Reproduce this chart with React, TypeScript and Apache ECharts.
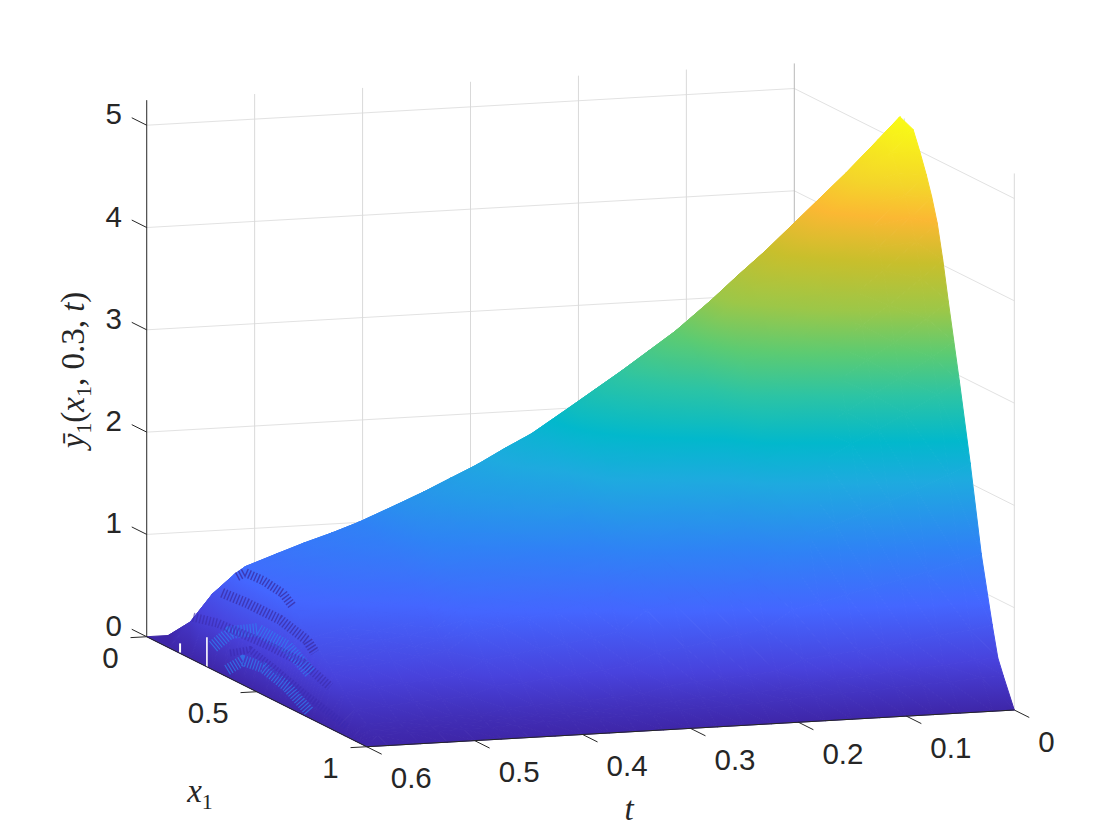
import React, { useEffect, useRef } from "react";
import * as echarts from "echarts";

// ---- surface values ----
const x1Values = [0, 0.1, 0.2, 0.3, 0.35, 0.4, 0.44, 0.48, 0.54, 0.57, 0.6, 0.625, 0.65, 0.675, 0.7, 0.725, 0.75, 0.8, 0.85, 0.9, 0.925, 0.95, 1];
const tValues = [0, 0.02, 0.05, 0.075, 0.1, 0.125, 0.15, 0.175, 0.2, 0.225, 0.25, 0.275, 0.3, 0.325, 0.35, 0.375, 0.4, 0.425, 0.45, 0.475, 0.5, 0.525, 0.55, 0.58, 0.6];
const row000 = [0, 0.88, 2.07, 3.37, 3.92, 4.51, 5.0, 5.24, 5.18, 5.0, 4.8, 4.61, 4.38, 4.05, 3.67, 3.31, 2.95, 2.19, 1.36, 0.72, 0.43, 0.28, 0];
const row002 = [0, 0.84, 1.99, 3.24, 3.76, 4.33, 4.8, 5.03, 4.97, 4.8, 4.61, 4.42, 4.21, 3.88, 3.52, 3.17, 2.83, 2.1, 1.3, 0.69, 0.42, 0.27, 0];
const row005 = [0, 0.79, 1.86, 3.04, 3.53, 4.06, 4.51, 4.72, 4.67, 4.5, 4.32, 4.15, 3.95, 3.64, 3.3, 2.98, 2.66, 1.97, 1.22, 0.65, 0.39, 0.25, 0];
const row0075 = [0, 0.75, 1.77, 2.89, 3.35, 3.85, 4.28, 4.48, 4.43, 4.27, 4.1, 3.94, 3.75, 3.46, 3.14, 2.83, 2.52, 1.87, 1.16, 0.61, 0.37, 0.24, 0];
const row010 = [0, 0.71, 1.67, 2.73, 3.17, 3.65, 4.05, 4.24, 4.19, 4.04, 3.88, 3.73, 3.54, 3.27, 2.97, 2.68, 2.39, 1.77, 1.1, 0.58, 0.35, 0.22, 0];
const row0125 = [0, 0.67, 1.58, 2.58, 2.99, 3.44, 3.82, 4.0, 3.96, 3.82, 3.66, 3.52, 3.34, 3.09, 2.8, 2.52, 2.25, 1.67, 1.04, 0.55, 0.33, 0.21, 0];
const row015 = [0, 0.63, 1.49, 2.43, 2.83, 3.25, 3.61, 3.78, 3.74, 3.61, 3.46, 3.32, 3.16, 2.92, 2.65, 2.39, 2.13, 1.58, 0.98, 0.52, 0.31, 0.2, 0];
const row0175 = [0, 0.59, 1.4, 2.29, 2.66, 3.05, 3.39, 3.55, 3.51, 3.39, 3.25, 3.12, 2.97, 2.74, 2.49, 2.24, 2.0, 1.48, 0.92, 0.49, 0.29, 0.19, 0];
const row020 = [0, 0.52, 1.42, 2.25, 2.64, 2.96, 3.22, 3.2, 3.06, 2.95, 2.81, 2.68, 2.49, 2.27, 2.06, 1.86, 1.65, 1.2, 0.75, 0.39, 0.24, 0.16, 0];
const row0225 = [0, 0.49, 1.34, 2.13, 2.49, 2.8, 3.04, 3.02, 2.89, 2.78, 2.65, 2.53, 2.35, 2.14, 1.95, 1.76, 1.56, 1.13, 0.71, 0.37, 0.23, 0.15, 0];
const row025 = [0, 0.46, 1.26, 2.0, 2.35, 2.63, 2.86, 2.85, 2.72, 2.62, 2.49, 2.38, 2.21, 2.02, 1.83, 1.65, 1.46, 1.06, 0.66, 0.35, 0.21, 0.14, 0];
const row0275 = [0, 0.43, 1.18, 1.88, 2.21, 2.47, 2.69, 2.68, 2.56, 2.46, 2.35, 2.24, 2.08, 1.9, 1.72, 1.55, 1.38, 1.0, 0.62, 0.33, 0.2, 0.13, 0];
const row030 = [0, 0.4, 1.11, 1.76, 2.07, 2.32, 2.52, 2.51, 2.39, 2.31, 2.2, 2.1, 1.95, 1.78, 1.62, 1.46, 1.29, 0.94, 0.58, 0.31, 0.19, 0.13, 0];
const row0325 = [0, 0.45, 1.13, 1.76, 2.0, 2.25, 2.24, 2.2, 2.06, 1.97, 1.86, 1.74, 1.6, 1.46, 1.33, 1.19, 1.05, 0.75, 0.47, 0.24, 0.16, 0.1, 0];
const row035 = [0, 0.42, 1.06, 1.65, 1.89, 2.12, 2.11, 2.07, 1.94, 1.86, 1.76, 1.64, 1.5, 1.38, 1.25, 1.12, 0.99, 0.7, 0.44, 0.23, 0.15, 0.1, 0];
const row0375 = [0, 0.4, 0.99, 1.54, 1.76, 1.98, 1.97, 1.94, 1.81, 1.73, 1.64, 1.53, 1.4, 1.29, 1.17, 1.05, 0.92, 0.66, 0.41, 0.21, 0.14, 0.09, 0];
const row040 = [0, 0.37, 0.93, 1.45, 1.66, 1.86, 1.85, 1.82, 1.7, 1.63, 1.54, 1.44, 1.32, 1.21, 1.1, 0.99, 0.87, 0.62, 0.39, 0.2, 0.13, 0.09, 0];
const row0425 = [0, 0.35, 0.87, 1.36, 1.55, 1.74, 1.73, 1.7, 1.59, 1.52, 1.44, 1.34, 1.23, 1.13, 1.03, 0.92, 0.81, 0.58, 0.36, 0.19, 0.12, 0.08, 0];
const row045 = [0, 0.33, 0.82, 1.27, 1.45, 1.63, 1.62, 1.59, 1.49, 1.43, 1.35, 1.26, 1.16, 1.06, 0.96, 0.86, 0.76, 0.54, 0.34, 0.18, 0.11, 0.07, 0];
const row0475 = [0, 0.33, 0.84, 1.24, 1.42, 1.41, 1.38, 1.33, 1.23, 1.17, 1.08, 0.99, 0.91, 0.84, 0.76, 0.68, 0.59, 0.41, 0.26, 0.13, 0.09, 0.06, 0];
const row050 = [0, 0.3, 0.78, 1.17, 1.33, 1.32, 1.3, 1.25, 1.15, 1.09, 1.01, 0.93, 0.86, 0.78, 0.71, 0.63, 0.55, 0.38, 0.24, 0.13, 0.09, 0.06, 0];
const row0525 = [0, 0.29, 0.74, 1.1, 1.25, 1.24, 1.22, 1.17, 1.08, 1.03, 0.95, 0.88, 0.81, 0.74, 0.67, 0.6, 0.52, 0.36, 0.23, 0.12, 0.08, 0.05, 0];
const row055 = [0, 0.27, 0.68, 1.02, 1.16, 1.15, 1.13, 1.09, 1.01, 0.95, 0.88, 0.81, 0.75, 0.68, 0.62, 0.55, 0.48, 0.34, 0.21, 0.11, 0.07, 0.05, 0];
const row058 = [0, 0.24, 0.62, 0.92, 1.05, 1.04, 1.02, 0.98, 0.91, 0.86, 0.8, 0.74, 0.68, 0.62, 0.56, 0.5, 0.44, 0.3, 0.19, 0.1, 0.07, 0.05, 0];
const row060 = [0, 0, 0, 0, 0, 0, 0, 0, 0, 0, 0, 0, 0, 0, 0, 0, 0, 0, 0, 0, 0, 0, 0];
const zRows = [row000, row002, row005, row0075, row010, row0125, row015, row0175, row020, row0225, row025, row0275, row030, row0325, row035, row0375, row040, row0425, row045, row0475, row050, row0525, row055, row058, row060];

// numerical ripples on the steep front near t = 0.6: [x1, t, z]
const rippleDark1 = [[0.337, 0.585, 0.94], [0.373, 0.585, 1.02], [0.455, 0.585, 1.03], [0.546, 0.585, 1.0], [0.591, 0.585, 0.92]];
const rippleDark2 = [[0.269, 0.585, 0.71], [0.382, 0.585, 0.73], [0.532, 0.585, 0.73], [0.655, 0.585, 0.66], [0.691, 0.585, 0.58]];
const rippleDark3 = [[0.137, 0.585, 0.33], [0.246, 0.585, 0.39], [0.455, 0.585, 0.42], [0.637, 0.585, 0.42], [0.759, 0.585, 0.32]];
const rippleLight1 = [[0.228, 0.585, 0.14], [0.305, 0.585, 0.36], [0.428, 0.585, 0.52], [0.564, 0.585, 0.5], [0.669, 0.585, 0.36]];
const rippleDark4 = [[0.305, 0.585, 0.16], [0.396, 0.585, 0.29], [0.5, 0.585, 0.23], [0.637, 0.585, 0.13], [0.837, 0.585, 0.01]];
const rippleLight2 = [[0.292, 0.585, -0.02], [0.364, 0.585, 0.15], [0.455, 0.585, 0.18], [0.564, 0.585, 0.11], [0.669, 0.585, -0.03]];
const gapA = [[0.078, 0.585, 0.01], [0.078, 0.585, -0.08]];
const gapB = [[0.2, 0.585, 0.2], [0.2, 0.585, -0.09]];

// ---- ticks ----
const zTicks = [0, 1, 2, 3, 4, 5];
const tTicks = [0, 0.1, 0.2, 0.3, 0.4, 0.5, 0.6];
const x1Ticks = [0, 0.5, 1];
const zTop = 5.245;

// ---- colour of the surface by height ----
const zStops = [0, 0.41, 0.92, 1.43, 2.04, 2.4, 2.82, 3.2, 3.59, 4.02, 4.41, 4.7, 5.24];
const zColors = ["#3e26a8", "#4842dc", "#4466ff", "#2f82f5", "#1eaadf", "#02b8cc", "#2cc4a4", "#5ccb72", "#9cc748", "#c8bf2c", "#fbb833", "#f4d52a", "#f9fb15"];

const FONT = '"Liberation Sans", Arial, sans-serif';
const MATH = '"Liberation Serif", serif';
const INK = "#262626";

// orthographic view of the box
function project(x1: number, t: number, z: number): [number, number] {
  return [794.3 + 220 * x1 - 1079.3 * t, 600 + 110 * x1 + 61.2 * t - 102.3 * z];
}

function hexToRgb(h: string) {
  return [parseInt(h.slice(1, 3), 16), parseInt(h.slice(3, 5), 16), parseInt(h.slice(5, 7), 16)];
}
function colorAt(z: number) {
  if (z <= zStops[0]) return zColors[0];
  for (let i = 1; i < zStops.length; i++) {
    if (z <= zStops[i]) {
      const f = (z - zStops[i - 1]) / (zStops[i] - zStops[i - 1]);
      const a = hexToRgb(zColors[i - 1]);
      const b = hexToRgb(zColors[i]);
      return `rgb(${a.map((v, k) => Math.round(v + (b[k] - v) * f)).join(",")})`;
    }
  }
  return zColors[zColors.length - 1];
}

type P3 = number[];
const triangles: P3[][] = [];
for (let i = 0; i < tValues.length - 1; i++) {
  for (let j = 0; j < x1Values.length - 1; j++) {
    const a = [x1Values[j], tValues[i], zRows[i][j]];
    const b = [x1Values[j + 1], tValues[i], zRows[i][j + 1]];
    const c = [x1Values[j], tValues[i + 1], zRows[i + 1][j]];
    const d = [x1Values[j + 1], tValues[i + 1], zRows[i + 1][j + 1]];
    if (i === tValues.length - 2) {
      triangles.push([a, b, d]);
      triangles.push([a, d, c]);
    } else {
      triangles.push([a, b, c]);
      triangles.push([b, d, c]);
    }
  }
}

function triFill(tri: P3[], pts: number[][]) {
  const zs = tri.map((p) => p[2]);
  const zMin = Math.min(...zs);
  const zMax = Math.max(...zs);
  const e1 = [pts[1][0] - pts[0][0], pts[1][1] - pts[0][1]];
  const e2 = [pts[2][0] - pts[0][0], pts[2][1] - pts[0][1]];
  const d1 = zs[1] - zs[0];
  const d2 = zs[2] - zs[0];
  const det = e1[0] * e2[1] - e1[1] * e2[0];
  if (zMax - zMin < 0.005 || Math.abs(det) < 1e-3) return colorAt((zMin + zMax) / 2);
  const gx = (d1 * e2[1] - d2 * e1[1]) / det;
  const gy = (e1[0] * d2 - e2[0] * d1) / det;
  const g2 = gx * gx + gy * gy;
  const sk = (zMin - zs[0]) / g2;
  const ek = (zMax - zs[0]) / g2;
  const stops = [{ offset: 0, color: colorAt(zMin) }];
  zStops.forEach((s) => {
    if (s > zMin && s < zMax) stops.push({ offset: (s - zMin) / (zMax - zMin), color: colorAt(s) });
  });
  stops.push({ offset: 1, color: colorAt(zMax) });
  return new echarts.graphic.LinearGradient(
    pts[0][0] + gx * sk,
    pts[0][1] + gy * sk,
    pts[0][0] + gx * ek,
    pts[0][1] + gy * ek,
    stops,
    true
  );
}

type Seg = { pts: P3[]; color: string; width: number; dash?: number[]; opacity?: number };

function seg(pts: P3[], color: string, width: number, dash?: number[], opacity?: number): Seg {
  return { pts, color, width, dash, opacity };
}

const gridH = "#e2e2e2";
const gridV = "#d9d9d9";
const gridSegs: Seg[] = [];
zTicks.forEach((z) => {
  gridSegs.push(seg([[0, 0.6, z], [0, 0, z]], gridH, 1));
  gridSegs.push(seg([[0, 0, z], [1, 0, z]], gridH, 1));
});
tTicks.slice(1, -1).forEach((t) => {
  gridSegs.push(seg([[0, t, 0], [0, t, zTop]], gridV, 1));
  gridSegs.push(seg([[0, t, 0], [1, t, 0]], gridH, 1));
});
x1Ticks.slice(1).forEach((x) => {
  gridSegs.push(seg([[x, 0, 0], [x, 0, zTop]], gridV, 1));
  gridSegs.push(seg([[x, 0, 0], [x, 0.6, 0]], gridH, 1));
});
gridSegs.push(seg([[0, 0, 0], [0, 0, zTop]], "#b8b8b8", 1));

const rippleSegs: Seg[] = [
  seg(rippleLight1, "#2f80f2", 13, [1.2, 1.8], 0.7),
  seg(rippleLight2, "#2f80f2", 11, [1.2, 1.8], 0.7),
  seg(rippleDark1, "#3a2a9e", 9, [1.4, 1.9], 0.75),
  seg(rippleDark2, "#3a2a9e", 10, [1.4, 1.9], 0.7),
  seg(rippleDark3, "#3a2aa8", 9, [1.4, 1.9], 0.6),
  seg(rippleDark4, "#3a2ab0", 7, [1.4, 1.9], 0.65),
  seg(gapA, "#ffffff", 2),
  seg(gapB, "#ffffff", 1.6),
];

const axisSegs: Seg[] = [
  seg([[0, 0.6, 0], [0, 0.6, zTop]], INK, 1),
  seg([[0, 0.6, 0], [1, 0.6, 0]], INK, 1),
  seg([[1, 0.6, 0], [1, 0, 0]], INK, 1),
];
zTicks.forEach((z) => axisSegs.push(seg([[0, 0.6, z], [-0.068, 0.6, z]], INK, 1)));
x1Ticks.forEach((x) => axisSegs.push(seg([[x, 0.6, 0], [x, 0.615, 0]], INK, 1)));
tTicks.forEach((t) => axisSegs.push(seg([[1, t, 0], [1.068, t, 0]], INK, 1)));

type Lbl = { text: string; at: [number, number]; dx: number; dy: number; align: string };
const labels: Lbl[] = [
  ...zTicks.map((z) => ({ text: String(z), at: project(0, 0.6, z), dx: -24.7, dy: -11.5, align: "right" })),
  ...tTicks.map((t) => ({ text: String(t), at: project(1, t, 0), dx: 24, dy: 31, align: "left" })),
  ...x1Ticks.map((x) => ({ text: String(x), at: project(x, 0.6, 0), dx: -28, dy: 21, align: "right" })),
];

const mathRich = {
  i: { fontFamily: MATH, fontStyle: "italic", fontSize: 33, lineHeight: 42, verticalAlign: "middle", fill: INK },
  n: { fontFamily: MATH, fontSize: 33, lineHeight: 42, verticalAlign: "middle", fill: INK },
  s: { fontFamily: MATH, fontSize: 22, lineHeight: 22, verticalAlign: "bottom", fill: INK },
};
const mathLabels = [
  { text: "{i|ȳ}{s|1}{n|(}{i|x}{s|1}{n|, 0.3, }{i|t}{n|)}", x: 73, y: 370, rotation: Math.PI / 2 },
  { text: "{i|x}{s|1}", x: 200, y: 791, rotation: 0 },
  { text: "{i|t}", x: 629, y: 809, rotation: 0 },
];

function segLayer(items: Seg[], z: number) {
  return {
    type: "custom",
    coordinateSystem: "cartesian2d",
    z,
    silent: true,
    clip: false,
    data: items.map((_, i) => [i]),
    renderItem: (p: any, api: any) => {
      const s = items[p.dataIndex];
      const points = s.pts.map((q) => {
        const [a, b] = project(q[0], q[1], q[2]);
        return api.coord([a, b]);
      });
      return {
        type: "polyline",
        shape: { points },
        style: {
          stroke: s.color,
          lineWidth: s.width,
          fill: "none",
          lineDash: s.dash,
          opacity: s.opacity ?? 1,
        },
      };
    },
  };
}

export default function App() {
  const ref = useRef<HTMLDivElement>(null);
  useEffect(() => {
    document.body.style.margin = "0";
    const chart = echarts.init(ref.current!, undefined, { renderer: "svg" });
    chart.setOption({
      animation: false,
      backgroundColor: "#ffffff",
      grid: { left: 0, right: 0, top: 0, bottom: 0 },
      xAxis: { type: "value", min: 0, max: 1120, show: false },
      yAxis: { type: "value", min: 0, max: 840, inverse: true, show: false },
      tooltip: { show: false },
      series: [
        segLayer(gridSegs, 1),
        {
          type: "custom",
          coordinateSystem: "cartesian2d",
          z: 2,
          silent: true,
          clip: false,
          data: triangles.map((_, i) => [i]),
          renderItem: (p: any, api: any) => {
            const tri = triangles[p.dataIndex];
            const pts = tri.map((q) => {
              const [a, b] = project(q[0], q[1], q[2]);
              return api.coord([a, b]);
            });
            const fill = triFill(tri, pts);
            return {
              type: "polygon",
              shape: { points: pts },
              style: { fill, stroke: fill, lineWidth: 1, lineJoin: "round" },
            };
          },
        },
        segLayer(rippleSegs, 3),
        segLayer(axisSegs, 4),
        {
          type: "custom",
          coordinateSystem: "cartesian2d",
          z: 5,
          silent: true,
          clip: false,
          data: labels.map((_, i) => [i]),
          renderItem: (p: any, api: any) => {
            const l = labels[p.dataIndex];
            const c = api.coord(l.at);
            return {
              type: "text",
              style: {
                text: l.text,
                x: c[0] + l.dx,
                y: c[1] + l.dy,
                fill: INK,
                fontSize: 29.5,
                fontFamily: FONT,
                align: l.align,
                verticalAlign: "middle",
              },
            };
          },
        },
        {
          type: "custom",
          coordinateSystem: "cartesian2d",
          z: 5,
          silent: true,
          clip: false,
          data: mathLabels.map((_, i) => [i]),
          renderItem: (p: any, api: any) => {
            const l = mathLabels[p.dataIndex];
            const c = api.coord([l.x, l.y]);
            return {
              type: "text",
              x: c[0],
              y: c[1],
              rotation: l.rotation,
              style: {
                text: l.text,
                rich: mathRich,
                x: 0,
                y: 0,
                fill: INK,
                align: "center",
                verticalAlign: "middle",
              },
            };
          },
        },
      ],
    });
    return () => chart.dispose();
  }, []);
  return <div ref={ref} style={{ width: 1120, height: 840 }} />;
}
